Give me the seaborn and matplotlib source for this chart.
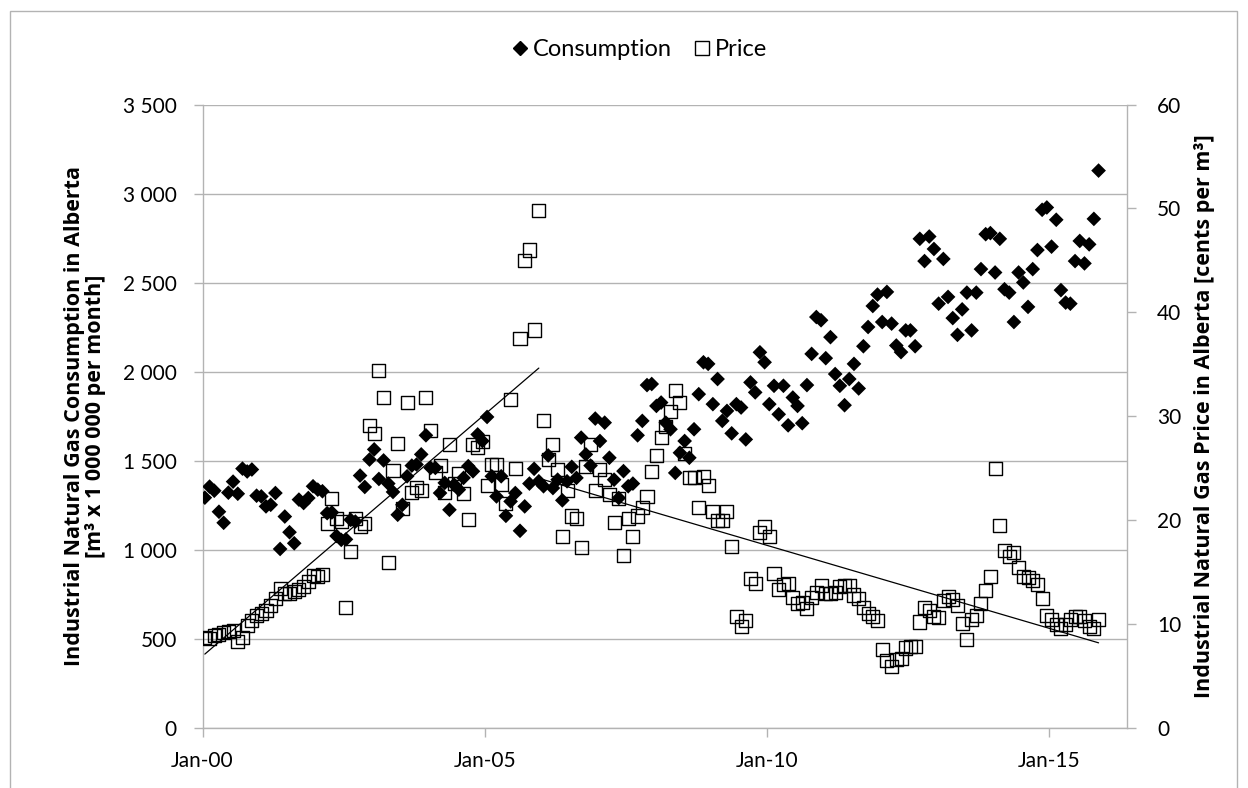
import numpy as np
import pandas as pd
import matplotlib
matplotlib.use("Agg")
import matplotlib.pyplot as plt
from matplotlib.lines import Line2D
from matplotlib.ticker import FuncFormatter, MultipleLocator
import seaborn as sns

# Monthly data, Jan-2000 onward
consumption = [
    1293, 1355, 1332, 1214, 1152, 1321, 1383, 1315, 1456, 1440, 1451, 1304,
    1300, 1244, 1253, 1319, 1005, 1187, 1099, 1037, 1282, 1263, 1291, 1357,
    1338, 1329, 1206, 1210, 1078, 1056, 1059, 1169, 1159, 1417, 1353, 1507,
    1564, 1398, 1502, 1372, 1325, 1197, 1253, 1413, 1473, 1479, 1536, 1643,
    1460, 1460, 1319, 1376, 1225, 1366, 1338, 1404, 1470, 1441, 1648, 1611,
    1746, 1413, 1300, 1413, 1191, 1272, 1319, 1107, 1244, 1372, 1455, 1385,
    1357, 1530, 1347, 1394, 1278, 1385, 1466, 1404, 1630, 1536, 1473, 1737,
    1611, 1714, 1517, 1394, 1291, 1442, 1357, 1372, 1643, 1724, 1925, 1931,
    1808, 1827, 1714, 1677, 1432, 1545, 1611, 1517, 1677, 1874, 2053, 2044,
    1818, 1959, 1724, 1780, 1654, 1818, 1799, 1620, 1940, 1884, 2109, 2053,
    1818, 1921, 1761, 1921, 1699, 1855, 1808, 1711, 1925, 2100, 2307, 2289,
    2076, 2194, 1987, 1921, 1812, 1959, 2044, 1906, 2143, 2251, 2369, 2433,
    2279, 2448, 2270, 2147, 2110, 2232, 2232, 2143, 2746, 2621, 2759, 2689,
    2382, 2633, 2420, 2301, 2207, 2350, 2444, 2232, 2444, 2576, 2772, 2778,
    2557, 2746, 2463, 2444, 2279, 2557, 2501, 2364, 2576, 2683, 2909, 2922,
    2702, 2853, 2458, 2388, 2382, 2621, 2734, 2608, 2715, 2858, 3129,
]
price = [
    8.7, 8.6, 8.9, 9.0, 9.2, 9.3, 9.4, 8.3, 8.7, 9.9, 10.3, 10.8,
    11.0, 11.3, 11.8, 12.5, 13.4, 12.9, 12.9, 13.1, 13.3, 13.6, 14.1, 14.7,
    14.6, 14.8, 19.7, 22.1, 20.2, 19.9, 11.6, 17.0, 20.2, 19.4, 19.7, 29.1,
    28.3, 34.4, 31.8, 15.9, 24.8, 27.4, 21.1, 31.3, 22.7, 23.1, 22.9, 31.8,
    28.6, 24.6, 25.3, 22.7, 27.3, 23.5, 24.5, 22.6, 20.1, 27.3, 27.0, 27.6,
    23.3, 25.4, 25.4, 23.4, 21.6, 31.6, 25.0, 37.5, 45.0, 46.0, 38.3, 49.8,
    29.6, 25.8, 27.3, 24.9, 18.4, 22.9, 20.4, 20.2, 17.4, 25.2, 27.3, 22.9,
    24.9, 23.9, 22.5, 19.8, 22.1, 16.6, 20.2, 18.4, 20.4, 21.2, 22.3, 24.7,
    26.2, 28.0, 29.0, 30.5, 32.5, 31.3, 26.4, 24.1, 24.1, 21.2, 24.2, 23.3,
    20.8, 20.0, 20.0, 20.8, 17.5, 10.7, 9.8, 10.3, 14.4, 13.9, 18.8, 19.4,
    18.4, 14.9, 13.3, 13.8, 13.9, 12.6, 12.0, 12.1, 11.5, 12.6, 13.0, 13.7,
    12.9, 12.9, 13.0, 13.6, 13.7, 13.7, 12.8, 12.5, 11.6, 11.0, 10.7, 10.3,
    7.6, 6.5, 5.9, 6.6, 6.7, 7.7, 7.8, 7.8, 10.2, 11.6, 11.3, 10.7,
    10.6, 12.3, 12.7, 12.4, 11.8, 10.1, 8.5, 10.4, 10.8, 12.0, 13.2, 14.6,
    25.0, 19.5, 17.1, 16.5, 16.9, 15.4, 14.6, 14.5, 14.2, 13.8, 12.5, 10.8,
    10.4, 10.0, 9.6, 10.0, 10.4, 10.7, 10.7, 10.3, 9.8, 9.6, 10.4,
]
tick_labels = ["Jan-00", "Jan-05", "Jan-10", "Jan-15"]
tick_months = [0, 60, 120, 180]
trend_split = 72  # first month of second price trend (Jan-06)

sns.set_theme(style="white")
plt.rcParams["font.family"] = ["Lato", "DejaVu Sans"]
plt.rcParams["text.color"] = "black"
plt.rcParams["axes.labelcolor"] = "black"

n = len(consumption)
df = pd.DataFrame({
    "month": np.arange(n) + 0.5,
    "Consumption": consumption,
    "Price": price[:n],
})

GRID = "#b3b3b3"
FS = 15
LFS = 15.5
BOLD_FONT = ["Open Sans", "DejaVu Sans"]

fig = plt.figure(figsize=(12.48, 7.88), dpi=100)
ax = fig.add_axes([0.16226, 0.07614, 0.7410, 0.79124])
ax2 = ax.twinx()

sns.scatterplot(data=df, x="month", y="Consumption", ax=ax, marker="D",
                s=56, color="black", edgecolor="none", linewidth=0, zorder=3)
sns.scatterplot(data=df, x="month", y="Price", ax=ax2, marker="s",
                s=88, facecolor="none", edgecolor="black", linewidth=1.0,
                zorder=3)
sns.regplot(data=df.iloc[:trend_split], x="month", y="Price", ax=ax2,
            scatter=False, ci=None, line_kws=dict(color="black", lw=0.9))
sns.regplot(data=df.iloc[trend_split:], x="month", y="Price", ax=ax2,
            scatter=False, ci=None, line_kws=dict(color="black", lw=0.9))

ax.set_xlim(0, 196.6)
ax.set_ylim(0, 3500)
ax2.set_ylim(0, 60)
ax.yaxis.set_major_locator(MultipleLocator(500))
ax2.yaxis.set_major_locator(MultipleLocator(10))
ax.yaxis.set_major_formatter(FuncFormatter(lambda v, p: f"{int(v):,}".replace(",", " ")))
ax.set_xticks(tick_months)
ax.set_xticklabels(tick_labels)

ax.yaxis.grid(True, color=GRID, lw=1.0)
ax.xaxis.grid(False)
ax2.grid(False)
ax.set_axisbelow(True)

for sp in ["top", "right"]:
    ax.spines[sp].set_visible(False)
for sp in ["top", "left", "bottom"]:
    ax2.spines[sp].set_visible(False)
for sp in ["left", "bottom"]:
    ax.spines[sp].set_color(GRID)
    ax.spines[sp].set_linewidth(1.0)
ax2.spines["right"].set_color(GRID)
ax2.spines["right"].set_linewidth(1.0)

ax.tick_params(axis="y", left=True, direction="out", length=6.5, width=1.0,
               color=GRID, pad=12, labelsize=FS, labelcolor="black")
ax.tick_params(axis="x", bottom=True, direction="out", length=6.5, width=1.0,
               color=GRID, pad=10, labelsize=FS, labelcolor="black")
ax2.tick_params(axis="y", right=True, direction="out", length=6.5, width=1.0,
                color=GRID, pad=15, labelsize=FS, labelcolor="black")

ax.set_xlabel("")
ax.set_ylabel("Industrial Natural Gas Consumption in Alberta\n[m³ x 1 000 000 per month]",
              fontsize=LFS, fontweight="bold", family=BOLD_FONT, linespacing=1.0,
              color="black")
ax.yaxis.set_label_coords(-0.104, 0.5)
ax2.set_ylabel("Industrial Natural Gas Price in Alberta [cents per m³]",
               fontsize=LFS, fontweight="bold", family=BOLD_FONT, color="black")
ax2.yaxis.set_label_coords(1.072, 0.5)

handles = [
    Line2D([], [], marker="D", color="black", linestyle="none", markersize=7.0),
    Line2D([], [], marker="s", markerfacecolor="none", markeredgecolor="black",
           markeredgewidth=1.0, linestyle="none", markersize=9.4),
]
leg = fig.legend(handles, ["Consumption", "Price"], loc="center",
                 bbox_to_anchor=(640 / 1248, 1 - 50 / 788), ncol=2, frameon=False,
                 fontsize=17, handletextpad=0.25, columnspacing=1.0, handlelength=0.6)
for t in leg.get_texts():
    t.set_color("black")

fig.add_artist(plt.Rectangle((10 / 1248, -0.05), (1237 - 10) / 1248, 1.05 - 11 / 788,
                             transform=fig.transFigure, fill=False,
                             edgecolor=GRID, lw=1.0))

fig.savefig("out.png", dpi=100)
